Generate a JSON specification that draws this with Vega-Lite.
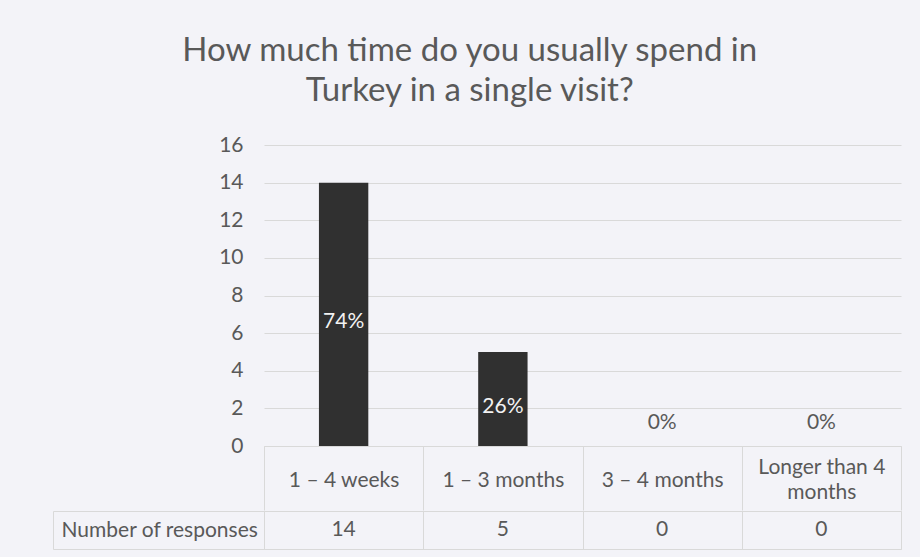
{
  "$schema": "https://vega.github.io/schema/vega-lite/v6.json",
  "background": "#f3f3f8",
  "padding": {"left": 52, "top": 35, "right": 20, "bottom": 9},
  "spacing": -13,
  "title": {
    "text": ["How much time do you usually spend in", "Turkey in a single visit?"],
    "font": "Lato",
    "fontSize": 33,
    "fontWeight": "normal",
    "color": "#595959",
    "lineHeight": 40,
    "anchor": "middle",
    "offset": 26,
    "dx": -7
  },
  "data": {
    "values": [
      {"period": "1 – 4 weeks", "count": 14, "pct": "74%", "row": "Number of responses"},
      {"period": "1 – 3 months", "count": 5, "pct": "26%", "row": "Number of responses"},
      {"period": "3 – 4 months", "count": 0, "pct": "0%", "row": "Number of responses"},
      {"period": "Longer than 4 months", "count": 0, "pct": "0%", "row": "Number of responses"}
    ]
  },
  "config": {
    "font": "Lato",
    "axis": {"labelFont": "Lato", "labelColor": "#595959", "labelFontSize": 21, "titleFontSize": 21}
  },
  "vconcat": [
    {
      "width": 637,
      "height": 301,
      "view": {"stroke": null},
      "encoding": {
        "x": {
          "field": "period",
          "type": "nominal",
          "sort": null,
          "scale": {"paddingInner": 0, "paddingOuter": 0},
          "axis": {
            "title": null,
            "labelAngle": 0,
            "tickBand": "extent",
            "tickSize": 64,
            "tickColor": "#d9d9d9",
            "domainColor": "#d9d9d9",
            "labelBaseline": "middle",
            "labelPadding": {"condition": {"test": "datum.value == 'Longer than 4 months'", "value": -42.5}, "value": -30},
            "labelLineHeight": 25,
            "labelExpr": "datum.label == 'Longer than 4 months' ? ['Longer than 4', 'months'] : datum.label"
          }
        }
      },
      "layer": [
        {
          "mark": {"type": "bar", "color": "#303030", "width": {"band": 0.31}},
          "encoding": {
            "y": {
              "field": "count",
              "type": "quantitative",
              "scale": {"domain": [0, 16], "nice": false},
              "axis": {
                "title": null,
                "values": [0, 2, 4, 6, 8, 10, 12, 14, 16],
                "labelOverlap": false,
                "domain": false,
                "ticks": false,
                "labelPadding": 21,
                "gridColor": "#d9d9d9"
              }
            }
          }
        },
        {
          "transform": [
            {"filter": "datum.count > 0"},
            {"calculate": "datum.count / 2", "as": "mid"}
          ],
          "mark": {"type": "text", "color": "#f2f2f2", "fontSize": 21, "baseline": "middle", "dy": 8},
          "encoding": {
            "y": {
              "field": "mid",
              "type": "quantitative",
              "axis": {
                "title": null,
                "values": [0, 2, 4, 6, 8, 10, 12, 14, 16],
                "labelOverlap": false,
                "domain": false,
                "ticks": false,
                "labelPadding": 21,
                "gridColor": "#d9d9d9"
              }
            },
            "text": {"field": "pct"}
          }
        },
        {
          "transform": [{"filter": "datum.count == 0"}],
          "mark": {"type": "text", "color": "#595959", "fontSize": 21, "baseline": "middle", "dy": -23},
          "encoding": {
            "y": {
              "field": "count",
              "type": "quantitative",
              "axis": {
                "title": null,
                "values": [0, 2, 4, 6, 8, 10, 12, 14, 16],
                "labelOverlap": false,
                "domain": false,
                "ticks": false,
                "labelPadding": 21,
                "gridColor": "#d9d9d9"
              }
            },
            "text": {"field": "pct"}
          }
        }
      ]
    },
    {
      "width": 637,
      "height": 38,
      "view": {"stroke": "#d9d9d9"},
      "resolve": {"axis": {"y": "independent"}},
      "encoding": {
        "x": {
          "field": "period",
          "type": "nominal",
          "sort": null,
          "scale": {"paddingInner": 0, "paddingOuter": 0},
          "axis": {
            "title": null,
            "labels": false,
            "ticks": false,
            "domain": false,
            "grid": true,
            "tickBand": "extent",
            "gridColor": "#d9d9d9"
          }
        }
      },
      "layer": [
        {
          "mark": {"type": "text", "color": "#595959", "fontSize": 21, "baseline": "middle"},
          "encoding": {
            "y": {
              "field": "row",
              "type": "nominal",
              "scale": {"paddingInner": 0, "paddingOuter": 0},
              "axis": {
                "title": null,
                "domain": false,
                "tickBand": "extent",
                "tickSize": 211,
                "tickColor": "#d9d9d9",
                "labelAlign": "left",
                "labelPadding": -8,
                "labelLimit": 300,
                "labelBaseline": "middle"
              }
            },
            "text": {"field": "count", "type": "quantitative"}
          }
        },
        {
          "mark": {"type": "text", "opacity": 0},
          "encoding": {
            "y": {
              "field": "row",
              "type": "nominal",
              "axis": {
                "orient": "left",
                "offset": 211,
                "title": null,
                "labels": false,
                "ticks": false,
                "grid": false,
                "domain": true,
                "domainColor": "#d9d9d9"
              }
            },
            "text": {"field": "count", "type": "quantitative"}
          }
        }
      ]
    }
  ]
}
